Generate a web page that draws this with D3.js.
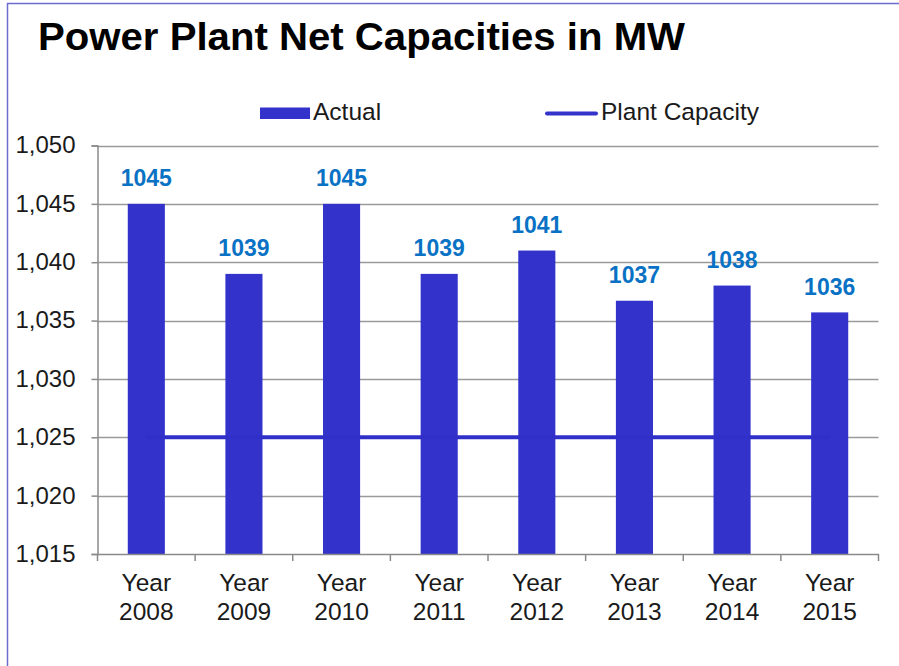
<!DOCTYPE html>
<html>
<head>
<meta charset="utf-8">
<script src="https://cdn.jsdelivr.net/npm/d3@7"></script>
<style>
  html, body { margin: 0; padding: 0; background: #fff; }
  svg { display: block; font-family: "Liberation Sans", Arial, sans-serif; }
</style>
</head>
<body>
<svg id="chart" width="899" height="666"></svg>
<script>
// Net capacity by year (MW) and the rated plant capacity
const years = ["2008", "2009", "2010", "2011", "2012", "2013", "2014", "2015"];
const actual = [1045, 1039, 1045, 1039, 1041, 1036.7, 1038, 1035.7];
const plantCapacity = [1025, 1025, 1025, 1025, 1025, 1025, 1025, 1025];
const yTicks = [1015, 1020, 1025, 1030, 1035, 1040, 1045, 1050];

const svg = d3.select("#chart");
const W = 899, H = 666;
const m = { left: 97.5, right: 20.5, top: 145.5, bottom: 112 };
const barColor = "#3333cc";
const textColor = "#1a1a1a";

// frame
svg.append("rect")
  .attr("x", 7.5).attr("y", 3.5)
  .attr("width", W + 20).attr("height", H + 20)
  .attr("fill", "#fff").attr("stroke", "#6b6bd0").attr("stroke-width", 1.5);

// title
svg.append("text")
  .attr("x", 38).attr("y", 50)
  .attr("font-size", 39).attr("font-weight", "bold").attr("fill", "#000")
  .attr("textLength", 647).attr("lengthAdjust", "spacingAndGlyphs")
  .text("Power Plant Net Capacities in MW");

const x = d3.scaleBand().domain(years).range([m.left, W - m.right]).paddingInner(0).paddingOuter(0);
const y = d3.scaleLinear().domain([1015, 1050]).range([H - m.bottom, m.top]);

// horizontal gridlines
svg.append("g")
  .selectAll("line").data(yTicks.slice(1)).join("line")
  .attr("x1", m.left).attr("x2", W - m.right)
  .attr("y1", d => Math.round(y(d)) + 0.5).attr("y2", d => Math.round(y(d)) + 0.5)
  .attr("stroke", "#9a9a9a").attr("stroke-width", 1.5);

// y axis
const yAxis = svg.append("g")
  .attr("transform", `translate(${m.left},0)`)
  .call(d3.axisLeft(y).tickValues(yTicks).tickSize(6).tickPadding(16).tickFormat(d3.format(",")));
yAxis.select(".domain").attr("stroke", "#8a8a8a").attr("stroke-width", 1.5);
yAxis.selectAll(".tick line").attr("stroke", "#8a8a8a").attr("stroke-width", 1.5);
yAxis.selectAll(".tick text").attr("font-size", 23).attr("fill", textColor)
  .attr("font-family", "Liberation Sans, Arial, sans-serif")
  .attr("textLength", 60).attr("lengthAdjust", "spacingAndGlyphs");

// bars
const bw = x.bandwidth() * 0.38;
svg.append("g").selectAll("rect").data(years).join("rect")
  .attr("x", d => x(d) + (x.bandwidth() - bw) / 2)
  .attr("width", bw)
  .attr("y", (d, i) => y(actual[i]))
  .attr("height", (d, i) => y(1015) - y(actual[i]))
  .attr("fill", barColor);

// value labels
svg.append("g").selectAll("text").data(years).join("text")
  .attr("x", d => x(d) + x.bandwidth() / 2)
  .attr("y", (d, i) => y(actual[i]) - 17.5)
  .attr("text-anchor", "middle")
  .attr("font-size", 23).attr("font-weight", "bold").attr("fill", "#0a72c4")
  .text((d, i) => d3.format(".0f")(actual[i]));

// x axis
const xAxis = svg.append("g")
  .attr("transform", `translate(0,${H - m.bottom})`)
  .call(d3.axisBottom(x).tickSize(0).tickFormat(""));
xAxis.select(".domain").attr("stroke", "#8a8a8a").attr("stroke-width", 1.5);
// ticks at category boundaries
const bounds = years.map(d => x(d)).concat([x(years[years.length - 1]) + x.bandwidth()]);
xAxis.selectAll(".bound").data(bounds).join("line").attr("class", "bound")
  .attr("x1", d => d).attr("x2", d => d).attr("y1", 0).attr("y2", 7)
  .attr("stroke", "#8a8a8a").attr("stroke-width", 1.5);
// two-line category labels
const lab = svg.append("g").selectAll("text").data(years).join("text")
  .attr("text-anchor", "middle")
  .attr("font-size", 24.5).attr("fill", textColor)
  .attr("x", d => x(d) + x.bandwidth() / 2);
lab.append("tspan").attr("x", d => x(d) + x.bandwidth() / 2).attr("y", 591).text("Year");
lab.append("tspan").attr("x", d => x(d) + x.bandwidth() / 2).attr("y", 620).text(d => d);

// plant capacity line
const line = d3.line()
  .x((d, i) => x(years[i]) + x.bandwidth() / 2)
  .y(d => y(d));
svg.append("path").datum(plantCapacity)
  .attr("d", line).attr("fill", "none")
  .attr("stroke", "#3030c8").attr("stroke-width", 4);

// legend
const lg = svg.append("g");
lg.append("rect").attr("x", 260).attr("y", 107.5).attr("width", 50).attr("height", 11.5).attr("fill", barColor);
lg.append("text").attr("x", 313).attr("y", 120).attr("font-size", 24.5).attr("fill", textColor).text("Actual");
lg.append("line").attr("x1", 547).attr("x2", 596).attr("y1", 113.5).attr("y2", 113.5)
  .attr("stroke", barColor).attr("stroke-width", 4).attr("stroke-linecap", "round");
lg.append("text").attr("x", 601).attr("y", 120).attr("font-size", 24.5).attr("fill", textColor).text("Plant Capacity");
</script>
</body>
</html>
